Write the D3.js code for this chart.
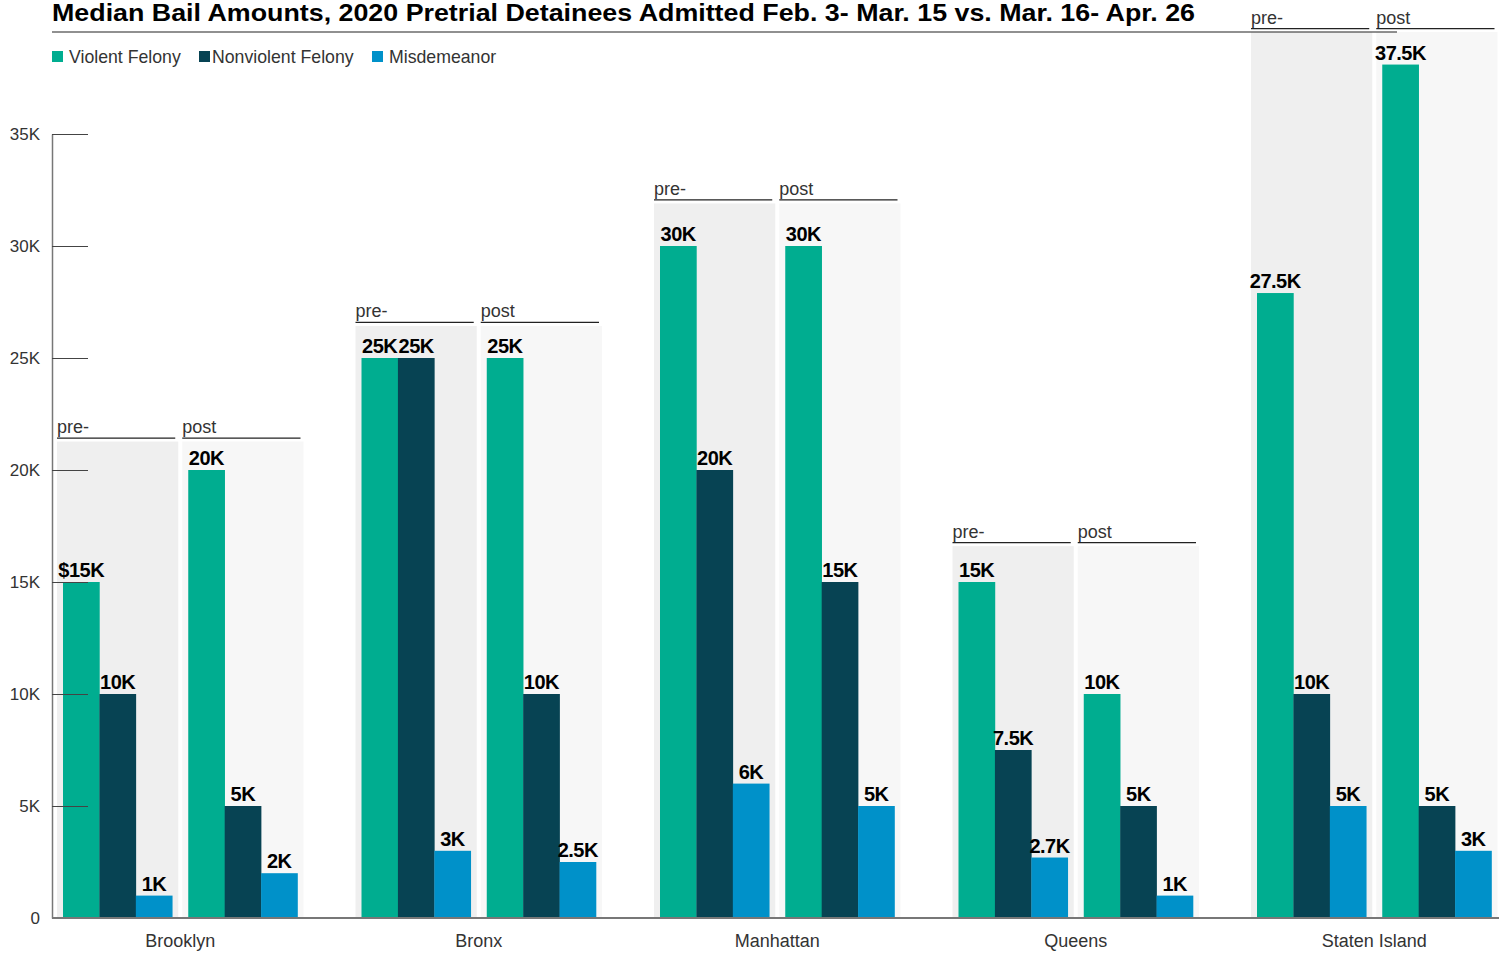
<!DOCTYPE html>
<html>
<head>
<meta charset="utf-8">
<script src="https://cdn.jsdelivr.net/npm/d3@7"></script>
<style>
  body { margin: 0; background: #fff; }
  text { font-family: "Liberation Sans", Arial, sans-serif; }
</style>
</head>
<body>
<svg id="chart"></svg>
<script>
const width = 1499;
const height = 953;
const sid = "#chart";

// data
const boroughs = ["Brooklyn", "Bronx", "Manhattan", "Queens", "Staten Island"];
const periods = ["pre", "post"];
const periodLabels = ["pre-", "post"];
const categories = ["Violent Felony", "Nonviolent Felony", "Misdemeanor"];
const colors = ["#00ad90", "#074353", "#0091c9"];

// values per borough: [VF, NVF, Misd]
const preValues = [
    [15000, 10000, 1000],
    [25000, 25000, 3000],
    [30000, 20000, 6000],
    [15000, 7500, 2700],
    [27900, 10000, 5000]
];
const postValues = [
    [20000, 5000, 2000],
    [25000, 10000, 2500],
    [30000, 15000, 5000],
    [10000, 5000, 1000],
    [38100, 5000, 3000]
];
const preLabels = [
    ["$15K", "10K", "1K"],
    ["25K", "25K", "3K"],
    ["30K", "20K", "6K"],
    ["15K", "7.5K", "2.7K"],
    ["27.5K", "10K", "5K"]
];
const postLabels = [
    ["20K", "5K", "2K"],
    ["25K", "10K", "2.5K"],
    ["30K", "15K", "5K"],
    ["10K", "5K", "1K"],
    ["37.5K", "5K", "3K"]
];
// top of the shaded pre/post header panels, in dollars
const panelTops = [21270, 26430, 31900, 16600, 39550];

const yTicks = [0, 5000, 10000, 15000, 20000, 25000, 30000, 35000];
const yTickLabels = ["0", "5K", "10K", "15K", "20K", "25K", "30K", "35K"];

const titleText = "Median Bail Amounts, 2020 Pretrial Detainees Admitted Feb. 3- Mar. 15 vs. Mar. 16- Apr. 26";

const svg = d3.select(sid)
    .attr("width", width)
    .attr("height", height);

// scales
const yScale = d3.scaleLinear()
    .domain([0, 35000])
    .range([918, 134]);

const xBorough = d3.scaleBand()
    .domain(boroughs)
    .range([31, 1523.5]);

const xPeriod = d3.scaleBand()
    .domain(periods)
    .range([26, 272.5])
    .paddingInner(0.032);

const xCat = d3.scaleBand()
    .domain(categories)
    .range([6, xPeriod.bandwidth() - 6]);

// build rows
const panels = [];
boroughs.forEach((b, i) => {
    periods.forEach((p, j) => {
        const vals = j === 0 ? preValues[i] : postValues[i];
        const labs = j === 0 ? preLabels[i] : postLabels[i];
        panels.push({
            borough: b,
            period: p,
            label: periodLabels[j],
            top: panelTops[i],
            bars: categories.map((c, k) => ({ cat: c, value: vals[k], label: labs[k], color: colors[k] }))
        });
    });
});

// title
svg.append("text")
    .attr("x", 52)
    .attr("y", 21)
    .attr("textLength", 1143)
    .attr("lengthAdjust", "spacingAndGlyphs")
    .style("font-size", "24px")
    .style("font-weight", "bold")
    .style("fill", "#000")
    .text(titleText);

// legend
const legend = svg.append("g");
const legendX = [52, 199, 372];
categories.forEach((c, k) => {
    legend.append("rect")
        .attr("x", legendX[k])
        .attr("y", 51)
        .attr("width", 11)
        .attr("height", 11)
        .attr("fill", colors[k]);
    legend.append("text")
        .attr("x", legendX[k] + (k === 1 ? 13 : 17))
        .attr("y", 63)
        .style("font-size", "17.7px")
        .style("fill", "#333")
        .text(c);
});

// panels
const pg = svg.append("g")
    .selectAll("g")
    .data(panels)
    .enter()
    .append("g")
    .attr("transform", d => `translate(${xBorough(d.borough) + xPeriod(d.period)},0)`);

pg.append("rect")
    .attr("x", 0)
    .attr("y", d => yScale(d.top))
    .attr("width", xPeriod.bandwidth())
    .attr("height", d => yScale(0) - yScale(d.top))
    .attr("fill", d => d.period === "pre" ? "#efefef" : "#f7f7f7");

pg.append("line")
    .attr("x1", 0)
    .attr("x2", xPeriod.bandwidth() - 3)
    .attr("y1", d => yScale(d.top) - 3.5)
    .attr("y2", d => yScale(d.top) - 3.5)
    .attr("stroke", "#222")
    .attr("stroke-width", 1.2);

pg.append("text")
    .attr("x", 0)
    .attr("y", d => yScale(d.top) - 8.5)
    .style("font-size", "18px")
    .style("fill", "#333")
    .text(d => d.label);

// title underline (drawn over panels)
svg.append("line")
    .attr("x1", 52)
    .attr("x2", 1397)
    .attr("y1", 32)
    .attr("y2", 32)
    .attr("stroke", "#222")
    .attr("stroke-width", 1.2);

// y axis
const yAxis = svg.append("g")
    .attr("transform", "translate(52,0)")
    .call(d3.axisLeft(yScale)
        .tickValues(yTicks)
        .tickFormat((d, i) => yTickLabels[i])
        .tickSizeInner(-36)
        .tickSizeOuter(0)
        .tickPadding(12));
yAxis.select(".domain").attr("stroke", "#777").attr("stroke-width", 1.5);
yAxis.selectAll(".tick line").attr("stroke", "#444");
yAxis.selectAll(".tick text")
    .style("font-size", "17px")
    .style("fill", "#333")
    .style("font-family", "'Liberation Sans', Arial, sans-serif");

// bars
pg.selectAll(".bar")
    .data(d => d.bars)
    .enter()
    .append("rect")
    .attr("class", "bar")
    .attr("x", d => xCat(d.cat))
    .attr("y", d => yScale(d.value))
    .attr("width", xCat.bandwidth() + 0.3)
    .attr("height", d => yScale(0) - yScale(d.value))
    .attr("fill", d => d.color);

pg.selectAll(".val")
    .data(d => d.bars)
    .enter()
    .append("text")
    .attr("class", "val")
    .attr("x", d => xCat(d.cat) + xCat.bandwidth() / 2)
    .attr("y", d => yScale(d.value) - 5)
    .attr("text-anchor", "middle")
    .style("font-size", "20px")
    .style("font-weight", "bold")
    .style("letter-spacing", "-0.5px")
    .style("fill", "#000")
    .text(d => d.label);

// x axis line
svg.append("line")
    .attr("x1", 52)
    .attr("x2", width)
    .attr("y1", yScale(0))
    .attr("y2", yScale(0))
    .attr("stroke", "#777")
    .attr("stroke-width", 2);

// borough labels
svg.append("g")
    .selectAll("text")
    .data(boroughs)
    .enter()
    .append("text")
    .attr("x", d => xBorough(d) + xBorough.bandwidth() / 2)
    .attr("y", 947)
    .attr("text-anchor", "middle")
    .style("font-size", "18px")
    .style("fill", "#333")
    .text(d => d);
</script>
</body>
</html>
